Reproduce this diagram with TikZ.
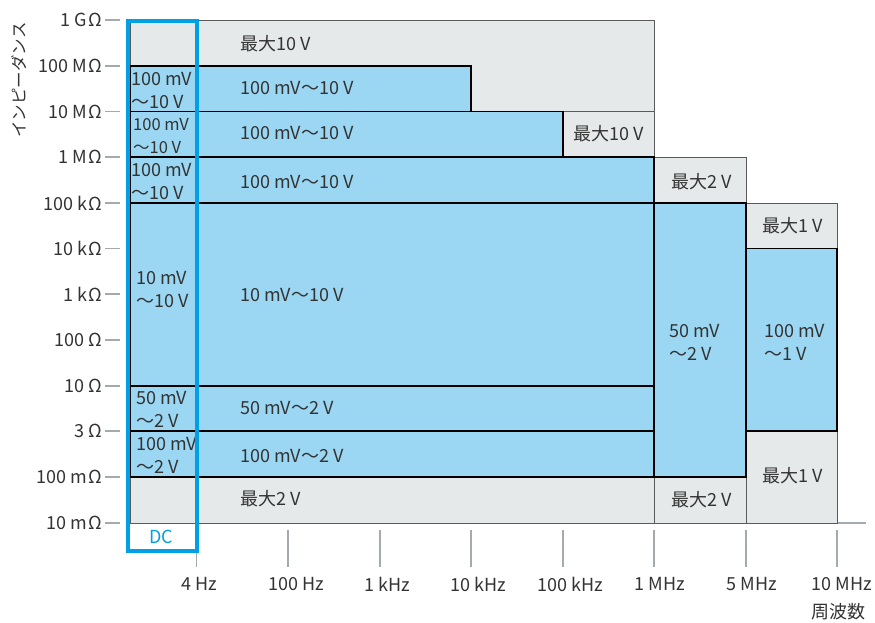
\documentclass[tikz,border=0pt]{standalone}
\usepackage{fontspec}
\setmainfont{Noto Sans CJK JP}
\definecolor{frameblue}{RGB}{0,160,228}
\definecolor{cellblue}{RGB}{155,215,243}
\definecolor{cellgray}{RGB}{230,233,234}
\definecolor{txt}{RGB}{51,51,51}
\definecolor{tickgray}{RGB}{165,170,175}
\definecolor{graybd}{RGB}{90,90,90}
\begin{document}
\begin{tikzpicture}[x=1pt,y=-1pt,
  bluecell/.style={fill=cellblue,draw=black,line width=1.2pt},
  graycell/.style={fill=cellgray,draw=graybd,line width=0.9pt},
  lbl/.style={text=txt,font=\fontsize{18}{23}\selectfont,inner sep=0pt,align=left},
  ylbl/.style={text=txt,font=\fontsize{18}{20}\selectfont,inner sep=0pt,anchor=east},
  xlbl/.style={text=txt,font=\fontsize{18}{20}\selectfont,inner sep=0pt},
  tickline/.style={draw=tickgray,line width=1.8pt}]
\useasboundingbox (0,0) rectangle (875,622);
% axis line
\draw[tickline] (196,523) -- (866,523);
% gray cells
\draw[graycell] (130,20) rectangle (654,111.5);
\draw[graycell] (563,111.5) rectangle (654,157);
\draw[graycell] (654,157) rectangle (746,203);
\draw[graycell] (746,203) rectangle (837,248.5);
\draw[graycell] (746,431) rectangle (837,523);
\draw[graycell] (654,477) rectangle (746,523);
\draw[graycell] (130,477) rectangle (654,523);
% blue cells
\draw[bluecell] (130,66) rectangle (471,111.5);
\draw[bluecell] (130,111.5) rectangle (563,157);
\draw[bluecell] (130,157) rectangle (654,203);
\draw[bluecell] (130,203) rectangle (654,386);
\draw[bluecell] (130,386) rectangle (654,431);
\draw[bluecell] (130,431) rectangle (654,477);
\draw[bluecell] (654,203) rectangle (746,477);
\draw[bluecell] (746,248.5) rectangle (837,431);
% main labels
\node[lbl,anchor=west] (g1) at (240,44) {最大10 V};
\node[lbl,anchor=west] (b1) at (240,88) {100 mV～10 V};
\node[lbl,anchor=west] (b2) at (240,133) {100 mV～10 V};
\node[lbl,anchor=west] (b3) at (240,182) {100 mV～10 V};
\node[lbl,anchor=west] (b4) at (240,295) {10 mV～10 V};
\node[lbl,anchor=west] (b5) at (240,408) {50 mV～2 V};
\node[lbl,anchor=west] (b6) at (240,456) {100 mV～2 V};
\node[lbl,anchor=west] (g7) at (240,499) {最大2 V};
\node[lbl] (g2) at (609,134) {最大10 V};
\node[lbl] (g3) at (702,182) {最大2 V};
\node[lbl] (g4) at (793,226) {最大1 V};
\node[lbl] (g5) at (793,476) {最大1 V};
\node[lbl] (g6) at (702,500) {最大2 V};
\node[lbl,anchor=west] (b7) at (669,342) {50 mV\\～2 V};
\node[lbl,anchor=west] (b8) at (764,342) {100 mV\\～1 V};
% DC column labels
\node[lbl,anchor=west] (d1) at (131,91) {100 mV\\～10 V};
\node[lbl,anchor=west,font=\fontsize{16.5}{23}\selectfont] (d2) at (133,136) {100 mV\\～10 V};
\node[lbl,anchor=west] (d3) at (131,182) {100 mV\\～10 V};
\node[lbl,anchor=west] (d4) at (136,290) {10 mV\\～10 V};
\node[lbl,anchor=west] (d5) at (136,409) {50 mV\\～2 V};
\node[lbl,anchor=west] (d6) at (136,455) {100 mV\\～2 V};
% DC frame
\draw[draw=frameblue,line width=4pt] (128,21) rectangle (196.5,551);
\node[text=frameblue,font=\fontsize{18}{20}\selectfont,inner sep=0pt] (dc) at (161,537) {DC};
% y ticks
\foreach \yy/\tx in {20/1 G\kern1ptΩ,66/100 M\kern1ptΩ,111.5/10 M\kern1ptΩ,157/1 M\kern1ptΩ,203/100 k\kern1ptΩ,248.5/10 k\kern1ptΩ,294/1 k\kern1ptΩ,340/100 Ω,386/10 Ω,431/3 Ω,477/100 m\kern1ptΩ,523/10 m\kern1ptΩ}{
  \draw[tickline] (105,\yy) -- (120,\yy);
  \node[ylbl] at (102,\yy) {\tx};
}
% x ticks
\draw[tickline] (196.5,553) -- (196.5,567);
\foreach \xx in {288,380,471,563,654,746,837}{
  \draw[tickline] (\xx,530) -- (\xx,567);
}
\foreach \xx/\tx in {199/4 Hz,296/100 Hz,387/1 kHz,478/10 kHz,570/100 kHz,660/1 MHz,752/5 MHz,842/10 MHz}{
  \node[xlbl] at (\xx,584) {\tx};
}
\node[xlbl] (xt) at (838,612) {周波数};
\node[xlbl,rotate=90,font=\fontsize{16.5}{20}\selectfont] (yt) at (19,80) {インピーダンス};
\end{tikzpicture}
\end{document}
